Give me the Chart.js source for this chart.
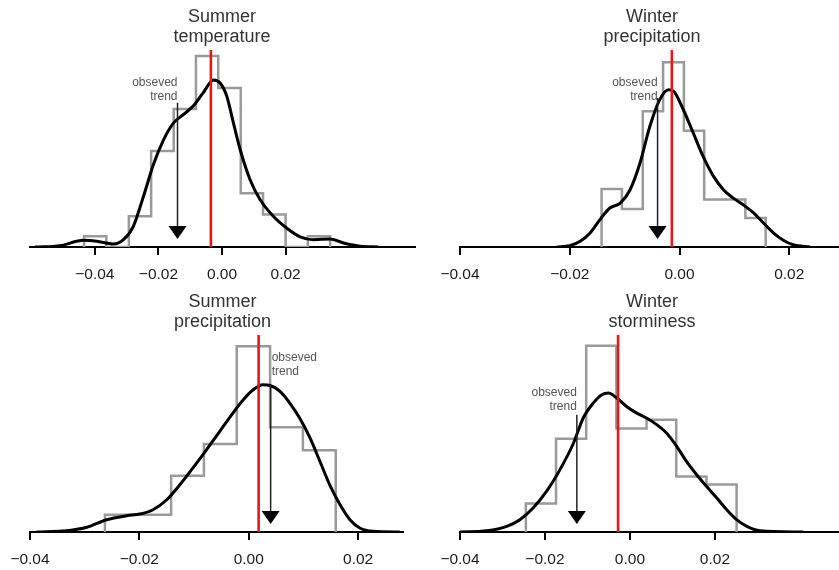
<!DOCTYPE html>
<html>
<head>
<meta charset="utf-8">
<script src="https://cdn.jsdelivr.net/npm/chart.js@4.4.1/dist/chart.umd.min.js"></script>
<style>
  html, body { margin: 0; padding: 0; background: #ffffff; overflow: hidden; width: 839px; height: 570px; }
  canvas { position: absolute; }
</style>
</head>
<body>
<canvas id="c1" width="444" height="285" style="left:0px;top:0px"></canvas>
<canvas id="c2" width="464" height="285" style="left:420px;top:0px"></canvas>
<canvas id="c3" width="445" height="285" style="left:0px;top:285px"></canvas>
<canvas id="c4" width="464" height="285" style="left:420px;top:285px"></canvas>
<script>
// ---------------- data ----------------
const xTickValues = [-0.04, -0.02, 0.00, 0.02];
const trendLabel = ['obseved', 'trend'];
const panelTitles = [
  ['Summer', 'temperature'],
  ['Winter', 'precipitation'],
  ['Summer', 'precipitation'],
  ['Winter', 'storminess']
];
// red line (ensemble reference) and observed trend (arrow) per panel
const redLineValues = [-0.0035, -0.0014, 0.0018, -0.0028];
const observedTrendValues = [-0.0140, -0.0040, 0.0040, -0.0125];

// Summer temperature
const stBinEdges = [-0.0434, -0.0364, -0.0293, -0.0223, -0.0152, -0.0082, -0.0012, 0.0059, 0.0129, 0.0200, 0.0270, 0.0340];
const stBinDensity = [2.1, 0, 6.05, 18.9, 27.2, 37.6, 31.3, 10.6, 6.4, 0, 2.1];
const stKdeX = [-0.0588, -0.0509, -0.0436, -0.0394, -0.0342, -0.0310, -0.0279, -0.0247, -0.0216, -0.0184, -0.0153, -0.0121, -0.0090, -0.0059, -0.0027, -0.0006, 0.0015, 0.0036, 0.0057, 0.0088, 0.0120, 0.0162, 0.0204, 0.0246, 0.0288, 0.0340, 0.0382, 0.0435, 0.0492];
const stKdeY = [0, 0.26, 1.32, 1.12, 0.59, 1.44, 4.08, 9.99, 16.2, 21.1, 24.4, 26.1, 27.8, 30.4, 32.9, 32.3, 29.7, 24.4, 19.2, 13.3, 9.3, 6.0, 3.7, 2.0, 1.44, 1.58, 0.79, 0.14, 0];

// Winter precipitation
const wpBinEdges = [-0.0142, -0.0105, -0.0067, -0.0030, 0.0008, 0.0045, 0.0083, 0.0120, 0.0157];
const wpBinDensity = [23.5, 15.4, 55.0, 74.8, 47.1, 19.2, 19.2, 11.7];
const wpKdeX = [-0.0224, -0.0200, -0.0181, -0.0163, -0.0145, -0.0127, -0.0108, -0.0090, -0.0072, -0.0054, -0.0036, -0.0020, -0.0011, 0.0007, 0.0025, 0.0043, 0.0062, 0.0080, 0.0098, 0.0116, 0.0135, 0.0153, 0.0171, 0.0189, 0.0207, 0.0238];
const wpKdeY = [0, 0.53, 2.3, 5.7, 11.1, 15.8, 17.8, 23.2, 34.0, 48.9, 59.7, 63.7, 63.1, 55.6, 46.2, 36.7, 28.6, 23.2, 19.8, 17.1, 13.8, 9.7, 5.7, 2.7, 0.9, 0];

// Summer precipitation
const spBinEdges = [-0.0263, -0.0203, -0.0142, -0.0082, -0.0022, 0.0039, 0.0099, 0.0159];
const spBinDensity = [5.2, 5.2, 16.9, 26.5, 55.9, 31.5, 24.6];
const spKdeX = [-0.0388, -0.0333, -0.0296, -0.0260, -0.0223, -0.0199, -0.0175, -0.0150, -0.0126, -0.0102, -0.0077, -0.0053, -0.0029, -0.0010, 0.0008, 0.0026, 0.0039, 0.0057, 0.0075, 0.0093, 0.0112, 0.0130, 0.0148, 0.0167, 0.0185, 0.0203, 0.0227, 0.0276];
const spKdeY = [0, 0.39, 1.41, 3.7, 4.9, 5.4, 6.7, 9.7, 14.2, 19.3, 24.8, 30.3, 35.8, 39.8, 42.8, 44.3, 44.1, 42.3, 38.8, 34.3, 28.3, 21.3, 14.2, 8.2, 3.7, 1.2, 0.2, 0];

// Winter storminess
const wsBinEdges = [-0.0245, -0.0174, -0.0103, -0.0032, 0.0039, 0.0109, 0.0180, 0.0251];
const wsBinDensity = [6.4, 21.0, 42.0, 23.3, 25.3, 12.5, 10.7];
const wsKdeX = [-0.0400, -0.0337, -0.0290, -0.0259, -0.0228, -0.0196, -0.0165, -0.0133, -0.0110, -0.0086, -0.0067, -0.0051, -0.0031, -0.0008, 0.0016, 0.0039, 0.0063, 0.0086, 0.0110, 0.0133, 0.0157, 0.0180, 0.0204, 0.0228, 0.0251, 0.0275, 0.0306, 0.0408];
const wsKdeY = [0, 0.29, 1.28, 2.77, 5.4, 9.2, 14.0, 20.0, 25.7, 29.1, 30.9, 31.3, 30.2, 28.3, 26.8, 25.7, 24.2, 22.3, 19.3, 15.9, 12.9, 10.3, 7.7, 5.0, 2.77, 1.28, 0.29, 0];

// ---------------- drawing ----------------
Chart.defaults.font.family = '"Liberation Sans", Arial, Helvetica, sans-serif';

function histPoints(edges, dens) {
  const pts = [{ x: edges[0], y: 0 }];
  for (let i = 0; i < dens.length; i++) pts.push({ x: edges[i + 1], y: dens[i] });
  pts.push({ x: edges[edges.length - 1], y: 0 });
  return pts;
}
function zip(xs, ys) { return xs.map((x, i) => ({ x: x, y: ys[i] })); }
function fmt(v) {
  const s = Math.abs(v).toFixed(2);
  return (v < -1e-9 ? '\u2212' : '') + s;
}

const trendPlugin = {
  id: 'trendArrow',
  afterDatasetsDraw(chart, args, o) {
    const ctx = chart.ctx, xs = chart.scales.x, ys = chart.scales.y;
    const px = xs.getPixelForValue(o.x);
    const yTop = ys.getPixelForValue(o.top);
    const yTip = ys.getPixelForValue(o.tip);
    const headLen = 13, headHalf = 9;
    ctx.save();
    ctx.strokeStyle = '#222';
    ctx.lineWidth = 1.5;
    ctx.beginPath();
    ctx.moveTo(px, yTop);
    ctx.lineTo(px, yTip - headLen + 1);
    ctx.stroke();
    ctx.fillStyle = '#000';
    ctx.beginPath();
    ctx.moveTo(px - headHalf, yTip - headLen);
    ctx.lineTo(px + headHalf, yTip - headLen);
    ctx.lineTo(px, yTip);
    ctx.closePath();
    ctx.fill();
    ctx.font = '12px "Liberation Sans", Arial, sans-serif';
    ctx.fillStyle = '#555';
    ctx.textAlign = o.align;
    ctx.textBaseline = 'middle';
    const ty = ys.getPixelForValue(o.textY);
    const tx = o.align === 'left' ? px + 1 : px;
    ctx.fillText(trendLabel[0], tx, ty);
    ctx.fillText(trendLabel[1], tx, ty + 13.5);
    ctx.restore();
  }
};

function makePanel(id, p) {
  new Chart(document.getElementById(id), {
    type: 'line',
    data: {
      datasets: [
        { data: [{ x: p.red, y: 0 }, { x: p.red, y: p.yMax }], borderColor: '#e8161b', borderWidth: 2.6, pointRadius: 0, fill: false },
        { data: zip(p.kx, p.ky), borderColor: '#000000', borderWidth: 3, pointRadius: 0, fill: false, cubicInterpolationMode: 'monotone' },
        { data: histPoints(p.edges, p.dens), borderColor: '#9a9a9a', borderWidth: 2.5, pointRadius: 0, fill: false, stepped: 'after', tension: 0 }
      ]
    },
    plugins: [trendPlugin],
    options: {
      responsive: false,
      animation: false,
      events: [],
      layout: { padding: 0, autoPadding: false },
      plugins: {
        legend: { display: false },
        tooltip: { enabled: false },
        title: {
          display: true, text: p.title, color: '#333',
          font: { size: 18, weight: 'normal', lineHeight: 20 / 18 },
          padding: { top: 7, bottom: 3 }
        },
        trendArrow: { x: p.arrow, top: p.arrowTop, tip: p.arrowTip, textY: p.textY, align: p.align }
      },
      scales: {
        x: {
          type: 'linear', position: 'bottom', min: p.xMin, max: p.xMax,
          afterBuildTicks: s => { s.ticks = xTickValues.map(v => ({ value: v })); },
          afterFit: s => { s.height = 38; },
          ticks: { color: '#1a1a1a', font: { size: 15.5 }, padding: 10, maxRotation: 0, autoSkip: false, callback: v => fmt(v) },
          grid: { display: true, drawOnChartArea: false, drawTicks: true, tickLength: 8, color: '#000', lineWidth: 2, tickWidth: 2 },
          border: { display: true, color: '#000', width: 2 }
        },
        y: {
          type: 'linear', position: 'left', min: 0, max: p.yMax,
          afterFit: s => { s.width = p.padL; },
          ticks: { display: false }, grid: { display: false }, border: { display: false }
        },
        y2: {
          type: 'linear', position: 'right',
          afterFit: s => { s.width = p.padR; },
          ticks: { display: false }, grid: { display: false }, border: { display: false }
        }
      }
    }
  });
}

makePanel('c1', { title: panelTitles[0], edges: stBinEdges, dens: stBinDensity, kx: stKdeX, ky: stKdeY,
  red: redLineValues[0], arrow: observedTrendValues[0], xMin: -0.0604, xMax: 0.0607, yMax: 38.8,
  padL: 30, padR: 29, arrowTop: 28.4, arrowTip: 1.6, textY: 32.3, align: 'right' });
makePanel('c2', { title: panelTitles[1], edges: wpBinEdges, dens: wpBinDensity, kx: wpKdeX, ky: wpKdeY,
  red: redLineValues[1], arrow: observedTrendValues[1], xMin: -0.04, xMax: 0.02906, yMax: 79.8,
  padL: 40, padR: 45, arrowTop: 60.3, arrowTip: 3.2, textY: 66.4, align: 'right' });
makePanel('c3', { title: panelTitles[2], edges: spBinEdges, dens: spBinDensity, kx: spKdeX, ky: spKdeY,
  red: redLineValues[2], arrow: observedTrendValues[2], xMin: -0.04, xMax: 0.0282, yMax: 59.3,
  padL: 30, padR: 42, arrowTop: 44.2, arrowTip: 2.4, textY: 52.4, align: 'left' });
makePanel('c4', { title: panelTitles[3], edges: wsBinEdges, dens: wsBinDensity, kx: wsKdeX, ky: wsKdeY,
  red: redLineValues[3], arrow: observedTrendValues[3], xMin: -0.04, xMax: 0.0492, yMax: 44.4,
  padL: 40, padR: 45, arrowTop: 26.4, arrowTip: 1.8, textY: 31.3, align: 'right' });
</script>
</body>
</html>
